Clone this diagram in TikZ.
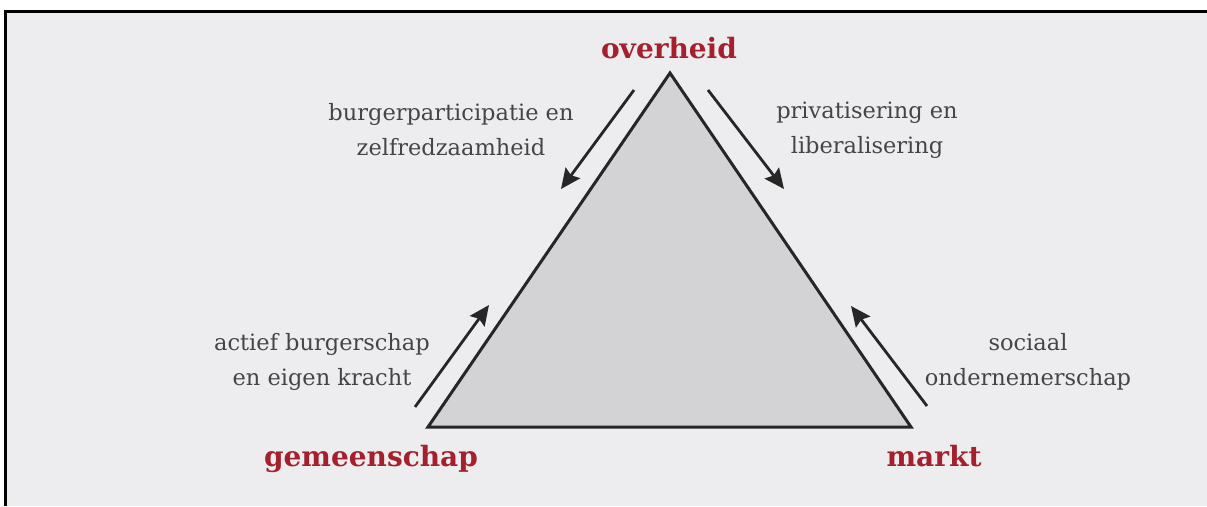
\documentclass[tikz,border=0pt]{standalone}
\usepackage{fontspec}
\setmainfont{DejaVu Serif}
\usetikzlibrary{arrows.meta}
\definecolor{bgray}{HTML}{EDEDEF}
\definecolor{trifill}{HTML}{D3D3D5}
\definecolor{darkred}{HTML}{A3202C}
\definecolor{txtgray}{HTML}{454545}
\tikzset{
  corner/.style={font=\bfseries\fontsize{28}{32}\selectfont, text=darkred, inner sep=0pt},
  lbl/.style={font=\fontsize{22.5}{35}\selectfont, text=txtgray, align=center, inner sep=0pt},
  flow/.style={line width=2.8pt, draw=black!85, -{Stealth[length=20pt,width=18pt,inset=3pt]}},
  tri/.style={line width=3pt, draw=black!85, fill=trifill, line join=miter}
}
\begin{document}
\begin{tikzpicture}[x=1pt,y=-1pt]
\useasboundingbox (0,0) rectangle (1207,506);
\fill[white] (0,0) rectangle (1207,506);
\fill[bgray] (7,12) rectangle (1207,506);
\draw[line width=3pt, black] (5.5,506) -- (5.5,11) -- (1207,11);
% triangle
\coordinate (top) at (670,73);
\coordinate (bl) at (428,427);
\coordinate (br) at (911,427);
\draw[tri] (top) -- (br) -- (bl) -- cycle;
% arrow ends
\coordinate (a1s) at (634,90);  \coordinate (a1e) at (561,189);
\coordinate (a2s) at (708,90);  \coordinate (a2e) at (784,189);
\coordinate (a3s) at (415,407); \coordinate (a3e) at (489,305);
\coordinate (a4s) at (927,406); \coordinate (a4e) at (851,306);
\draw[flow] (a1s) -- (a1e);
\draw[flow] (a2s) -- (a2e);
\draw[flow] (a3s) -- (a3e);
\draw[flow] (a4s) -- (a4e);
% corner labels
\node[corner] (overheid) at (669,48) {overheid};
\node[corner] (gemeenschap) at (371,459) {gemeenschap};
\node[corner] (markt) at (934,456) {markt};
% flow labels
\node[lbl] (l1) at (451,130) {burgerparticipatie en\\zelfredzaamheid};
\node[lbl] (l2) at (867,130) {privatisering en\\liberalisering};
\node[lbl] (l3) at (322,362) {actief burgerschap\\en eigen kracht};
\node[lbl] (l4) at (1028,362) {sociaal\\ondernemerschap};
\end{tikzpicture}
\end{document}
